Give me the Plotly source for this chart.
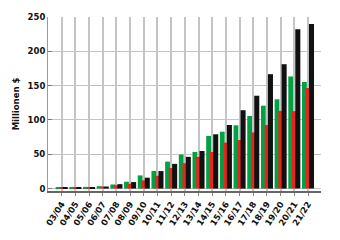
import plotly.graph_objects as go

categories = ["03/04", "04/05", "05/06", "06/07", "07/08", "08/09", "09/10", "10/11",
              "11/12", "12/13", "13/14", "14/15", "15/16", "16/17", "17/18", "18/19",
              "19/20", "20/21", "21/22"]
green_vals = [1, 1.5, 2.5, 3.5, 6, 10, 19.2, 25.7, 39.3, 49.6, 53.4, 76.8, 82.9, 92.2,
              105.8, 120.8, 130.1, 163.4, 155.4]
red_vals = [1, 1.5, 2, 3, 5, 7, 12, 18.7, 30, 37, 46.3, 53.4, 67, 70.7, 81.9, 92.7,
            113.3, 112.8, 146.5]
black_vals = [1, 1.5, 2, 3, 6.5, 9.5, 15.9, 25.5, 36, 46.3, 54.8, 79.1, 92.7, 114.2,
              135.3, 166.7, 181.2, 232.2, 239.7]
y_ticks = [0, 50, 100, 150, 200, 250]

xs = list(range(len(categories)))

fig = go.Figure()
fig.add_trace(go.Bar(x=xs, y=green_vals, offset=-0.44, width=0.35,
                     marker=dict(color="#00a043", line=dict(width=0))))
fig.add_trace(go.Bar(x=xs, y=red_vals, offset=-0.17, width=0.29,
                     marker=dict(color="#e5261e", line=dict(width=0))))
fig.add_trace(go.Bar(x=xs, y=black_vals, offset=0.07, width=0.37,
                     marker=dict(color="#111111", line=dict(width=0))))

fig.update_layout(
    width=340, height=240,
    margin=dict(l=48, r=19, t=12.5, b=47),
    barmode="overlay",
    showlegend=False,
    plot_bgcolor="white", paper_bgcolor="white",
    font=dict(family="DejaVu Sans", size=8.5, color="#111111", weight="bold"),
)
fig.update_xaxes(
    range=[-1, 18.95], tickvals=xs, ticktext=categories, tickangle=-57,
    showgrid=True, gridcolor="#c4c4c4", gridwidth=1.5,
    showline=True, linecolor="#666666", linewidth=1.5,
    ticks="outside", ticklen=3, tickcolor="#888888",
    tickfont=dict(family="DejaVu Sans", size=8.5, weight="bold"),
    zeroline=False, fixedrange=True,
)
fig.update_yaxes(
    range=[-3.5, 250], tickvals=y_ticks,
    showgrid=True, gridcolor="#c4c4c4", gridwidth=1,
    showline=True, linecolor="#999999", linewidth=1,
    ticks="inside", ticklen=4, tickcolor="#777777",
    tickfont=dict(family="DejaVu Sans", size=8.5, weight="bold"),
    title=dict(text="Millionen $", font=dict(family="DejaVu Sans", size=8.5, weight="bold"), standoff=6),
    zeroline=False, fixedrange=True,
)

fig.write_html("out.html")
